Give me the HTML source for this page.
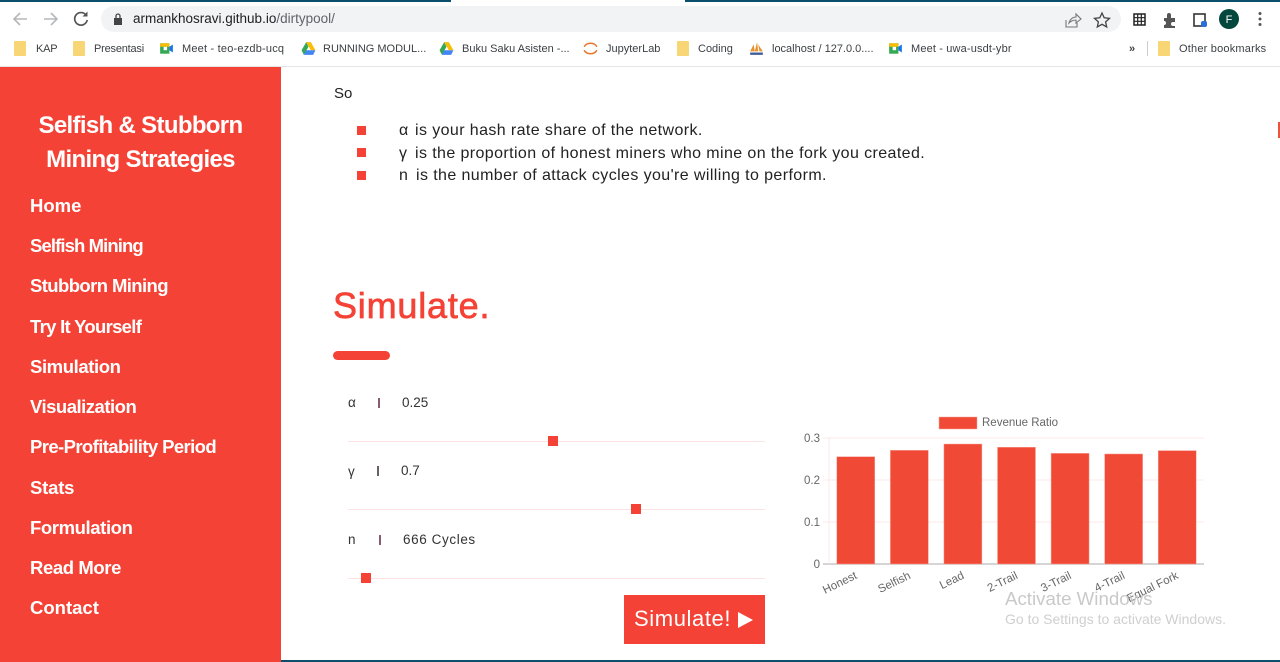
<!DOCTYPE html>
<html lang="en">
<head>
<meta charset="utf-8">
<title>Selfish and Stubborn Mining Strategies</title>
<style>
html,body{margin:0;padding:0;width:1280px;height:662px;overflow:hidden;background:#fff;font-family:"Liberation Sans",sans-serif;}
.abs{position:absolute;white-space:nowrap;}
#chrome{position:absolute;left:0;top:0;width:1280px;height:67px;background:#fff;border-bottom:1px solid #e4e4e4;box-sizing:border-box;}
.bm{position:absolute;top:42px;font-size:11px;line-height:14px;color:#3c4043;white-space:nowrap;}
.folder{position:absolute;top:41px;width:12px;height:15px;background:#f8d675;border-radius:1px;}
.bm-ic{position:absolute;top:41px;width:15px;height:15px;}
#sidebar{position:absolute;left:0;top:67px;width:281px;height:595px;background:#f44336;}
.nav{position:absolute;left:30px;color:#fff;font-size:18.5px;font-weight:bold;line-height:22px;white-space:nowrap;}
.side-title{position:absolute;left:0;width:281px;text-align:center;color:#fff;font-size:24px;font-weight:bold;line-height:34px;white-space:nowrap;letter-spacing:-.67px;}
.li-text{position:absolute;left:399px;font-size:16px;line-height:20px;color:#222;white-space:nowrap;letter-spacing:.4px;}
.li-sym{display:inline-block;width:16px;letter-spacing:0;}
.bullet{position:absolute;left:357px;width:9px;height:9px;background:#f44336;}
.lbl{position:absolute;font-size:13.5px;line-height:18px;color:#333;white-space:nowrap;}
.track{position:absolute;left:348px;width:417px;height:1px;background:#fde3e1;}
.thumb{position:absolute;width:10px;height:10px;background:#f44336;}
</style>
</head>
<body>
<div id="chrome">
  <div class="abs" style="left:0;top:0;width:451px;height:2px;background:#0b4f6c"></div>
  <div class="abs" style="left:685px;top:0;width:595px;height:2px;background:#0b4f6c"></div>
  <svg class="abs" style="left:0;top:0" width="100" height="38">
    <path d="M27 19H14M20 13l-6 6 6 6" fill="none" stroke="#b5b7ba" stroke-width="1.6"/>
    <path d="M44 19h13M51 13l6 6-6 6" fill="none" stroke="#b5b7ba" stroke-width="1.6"/>
    <path d="M86 15a6.3 6.3 0 1 0 1.2 5" fill="none" stroke="#555" stroke-width="1.7"/>
    <path d="M87.5 11.5v5h-5z" fill="#555"/>
  </svg>
  <div class="abs" style="left:101px;top:6px;width:1020px;height:26px;background:#f1f3f4;border-radius:13px"></div>
  <svg class="abs" style="left:112px;top:12px" width="12" height="14"><rect x="2" y="6" width="8" height="7" fill="#444"/><path d="M4 6V4a2 2 0 0 1 4 0v2" fill="none" stroke="#444" stroke-width="1.3"/></svg>
  <div class="abs" style="left:133px;top:11px;font-size:13.5px;line-height:16px;color:#202124">armankhosravi.github.io<span style="color:#5f6368">/dirtypool/</span></div>
  <svg class="abs" style="left:1060px;top:8px" width="215" height="24">
    <path d="M6 12v7h11v-4M9 15c1-4 4-6 7-6V6l5 5-5 4v-3c-3 0-5 1-7 3z" fill="none" stroke="#777" stroke-width="1.1"/>
    <path d="M42 5l2.2 4.8 5.3.6-3.9 3.5 1.1 5.1-4.7-2.7-4.7 2.7 1.1-5.1-3.9-3.5 5.3-.6z" fill="none" stroke="#444" stroke-width="1.3"/>
    <rect x="74" y="6" width="11" height="11" fill="none" stroke="#222" stroke-width="1.5"/>
    <path d="M74 9.7h11M74 13.3h11M77.7 6v11M81.3 6v11" stroke="#222" stroke-width="1.2"/>
    <path d="M104 10h3V7a2 2 0 0 1 4 0v3h4v4h-2a2 2 0 0 0 0 4h2v2h-11v-3a2 2 0 0 0 0-4z" fill="#555"/>
    <rect x="134" y="6" width="11" height="12" fill="none" stroke="#333" stroke-width="1.6"/>
    <rect x="141" y="13" width="6" height="6" rx="2" fill="#2b6fd6"/>
    <circle cx="169" cy="11" r="10" fill="#04473c"/>
    <circle cx="200" cy="5.5" r="1.5" fill="#555"/><circle cx="200" cy="11" r="1.5" fill="#555"/><circle cx="200" cy="16.5" r="1.5" fill="#555"/>
    <text x="169" y="15" text-anchor="middle" fill="#fff" font-size="11" font-family="Liberation Sans, sans-serif">F</text>
  </svg>

  <div class="folder" style="left:14px"></div>
  <div class="bm" style="left:36px;letter-spacing:-.2px">KAP</div>
  <div class="folder" style="left:73px"></div>
  <div class="bm" style="left:94px;letter-spacing:-.2px">Presentasi</div>
  <svg class="bm-ic" style="left:159px" viewBox="0 0 13 13"><rect x="1" y="2" width="8" height="9" fill="#34a853"/><rect x="1" y="2" width="8" height="3" fill="#fbbc04"/><rect x="4" y="5" width="3" height="3" fill="#fff"/><path d="M9 5l3-2v7L9 8z" fill="#1a73e8"/></svg>
  <div class="bm" style="left:182px;letter-spacing:.2px">Meet - teo-ezdb-ucq</div>
  <svg class="bm-ic" style="left:301px" viewBox="0 0 13 13"><path d="M4.5 1h4l4 7h-4z" fill="#fbbc04"/><path d="M4.5 1l-4 7 2 4 4-7z" fill="#34a853"/><path d="M2.5 12h8l2-4h-8z" fill="#4285f4"/></svg>
  <div class="bm" style="left:323px">RUNNING MODUL...</div>
  <svg class="bm-ic" style="left:439px" viewBox="0 0 13 13"><path d="M4.5 1h4l4 7h-4z" fill="#fbbc04"/><path d="M4.5 1l-4 7 2 4 4-7z" fill="#34a853"/><path d="M2.5 12h8l2-4h-8z" fill="#4285f4"/></svg>
  <div class="bm" style="left:462px">Buku Saku Asisten -...</div>
  <svg class="bm-ic" style="left:583px" viewBox="0 0 13 13"><path d="M1 5a6 5 0 0 1 11 0M1 8a6 5 0 0 0 11 0" fill="none" stroke="#e8772e" stroke-width="1.3"/></svg>
  <div class="bm" style="left:606px">JupyterLab</div>
  <div class="folder" style="left:677px"></div>
  <div class="bm" style="left:698px">Coding</div>
  <svg class="bm-ic" style="left:749px" viewBox="0 0 13 13"><path d="M1 9l3-6 1 6zM5 9l2-8 1 8zM9 9l-1-6 4 6z" fill="#e8912e"/><rect x="1" y="10" width="11" height="2" fill="#3c5a9a"/></svg>
  <div class="bm" style="left:772px">localhost / 127.0.0....</div>
  <svg class="bm-ic" style="left:888px" viewBox="0 0 13 13"><rect x="1" y="2" width="8" height="9" fill="#34a853"/><rect x="1" y="2" width="8" height="3" fill="#fbbc04"/><rect x="4" y="5" width="3" height="3" fill="#fff"/><path d="M9 5l3-2v7L9 8z" fill="#1a73e8"/></svg>
  <div class="bm" style="left:911px;letter-spacing:.15px">Meet - uwa-usdt-ybr</div>
  <div class="bm" style="left:1129px;font-weight:bold">»</div>
  <div class="abs" style="left:1147px;top:41px;width:1px;height:15px;background:#ccc"></div>
  <div class="folder" style="left:1158px"></div>
  <div class="bm" style="left:1179px;letter-spacing:.2px">Other bookmarks</div>
</div>

<div id="sidebar">
  <div class="side-title" style="top:42px">Selfish &amp; Stubborn</div>
  <div class="side-title" style="top:76px">Mining Strategies</div>
  <div class="nav" style="top:128px">Home</div>
  <div class="nav" style="top:168px;letter-spacing:-.9px">Selfish Mining</div>
  <div class="nav" style="top:208px;letter-spacing:-.6px">Stubborn Mining</div>
  <div class="nav" style="top:249px;letter-spacing:-.7px">Try It Yourself</div>
  <div class="nav" style="top:289px;letter-spacing:-.4px">Simulation</div>
  <div class="nav" style="top:329px;letter-spacing:-.5px">Visualization</div>
  <div class="nav" style="top:369px;letter-spacing:-.6px">Pre-Profitability Period</div>
  <div class="nav" style="top:410px;letter-spacing:-.2px">Stats</div>
  <div class="nav" style="top:450px;letter-spacing:-.4px">Formulation</div>
  <div class="nav" style="top:490px;letter-spacing:-.4px">Read More</div>
  <div class="nav" style="top:530px">Contact</div>
</div>

<div class="abs" style="left:334px;top:85px;font-size:15px;line-height:18px;color:#222">So</div>
<div class="bullet" style="top:126px"></div>
<div class="li-text" style="top:121px"><span class="li-sym">α</span>is your hash rate share of the network.</div>
<div class="bullet" style="top:148px"></div>
<div class="li-text" style="top:144px"><span class="li-sym">γ</span>is the proportion of honest miners who mine on the fork you created.</div>
<div class="bullet" style="top:171px"></div>
<div class="li-text" style="top:166px"><span class="li-sym" style="width:17px">n</span>is the number of attack cycles you're willing to perform.</div>

<div class="abs" style="left:333px;top:285px;font-size:36px;line-height:42px;color:#f44336;-webkit-text-stroke:.7px #f44336;letter-spacing:.8px">Simulate.</div>
<div class="abs" style="left:333px;top:351px;width:57px;height:9px;border-radius:5px;background:#f44336"></div>

<div class="lbl" style="left:348px;top:394px">α</div>
<div class="abs" style="left:378px;top:398px;width:2px;height:10px;background:#8a5a70"></div>
<div class="lbl" style="left:402px;top:394px">0.25</div>
<div class="track" style="top:441px"></div>
<div class="thumb" style="left:548px;top:436px"></div>

<div class="lbl" style="left:348px;top:463px">γ</div>
<div class="abs" style="left:377px;top:466px;width:2px;height:10px;background:#6a6068"></div>
<div class="lbl" style="left:401px;top:462px">0.7</div>
<div class="track" style="top:509px"></div>
<div class="thumb" style="left:631px;top:504px"></div>

<div class="lbl" style="left:348px;top:531px">n</div>
<div class="abs" style="left:379px;top:535px;width:2px;height:10px;background:#8a5a70"></div>
<div class="lbl" style="left:403px;top:531px;letter-spacing:.6px">666 Cycles</div>
<div class="track" style="top:578px"></div>
<div class="thumb" style="left:361px;top:573px"></div>

<div class="abs" style="left:624px;top:595px;width:141px;height:49px;background:#f44336">
  <span class="abs" style="left:10px;top:11px;font-size:22px;line-height:26px;color:#fff;letter-spacing:.6px">Simulate!</span>
  <svg class="abs" style="left:114px;top:17px" width="15" height="16"><path d="M0 0l15 8-15 8z" fill="#fff"/></svg>
</div>

<svg id="chart" class="abs" style="left:790px;top:405px" width="450" height="235"></svg>

<div class="abs" style="left:1005px;top:587px;font-size:18.7px;line-height:23px;color:#c9c9c9;font-family:'Liberation Sans',sans-serif">Activate Windows</div>
<div class="abs" style="left:1005px;top:611px;font-size:14px;line-height:17px;color:#cfcfcf">Go to Settings to activate Windows.</div>

<div class="abs" style="left:1278px;top:122px;width:2px;height:16px;background:#e8553f"></div>
<div class="abs" style="left:281px;top:660px;width:999px;height:2px;background:#0b4f6c"></div>

<script>
const categories = ["Honest", "Selfish", "Lead", "2-Trail", "3-Trail", "4-Trail", "Equal Fork"];
const revenueRatio = [0.2555, 0.2707, 0.2857, 0.278, 0.2635, 0.262, 0.27];
const yTicks = [0, 0.1, 0.2, 0.3];
const seriesName = "Revenue Ratio";

const svg = document.getElementById('chart');
const NS = 'http://www.w3.org/2000/svg';
const plot = { left: 39, right: 414, top: 33, bottom: 159, yMax: 0.3 };
const BAR_COLOR = '#f04a36';
const yScale = v => plot.bottom - (v / plot.yMax) * (plot.bottom - plot.top);
const band = (plot.right - plot.left) / categories.length;
const xScale = i => plot.left + band * (i + 0.5);

function make(tag, attrs, text) {
  const el = document.createElementNS(NS, tag);
  for (const k in attrs) el.setAttribute(k, attrs[k]);
  if (text !== undefined) el.textContent = text;
  svg.appendChild(el);
  return el;
}

yTicks.forEach(t => {
  const grid = make('line', { x1: plot.left - 6, x2: plot.right, y1: yScale(t), y2: yScale(t), stroke: t === 0 ? '#c9c6c6' : '#fde8e8', 'stroke-width': t === 0 ? 1.4 : 1 });
  
  
  const label = make('text', { x: plot.left - 9, y: yScale(t) + 4, 'text-anchor': 'end', 'font-size': 11.5, fill: '#666', 'font-family': 'Liberation Sans, sans-serif' }, String(t));
  
  
});

const yAxisLine = make('line', { x1: plot.left, x2: plot.left, y1: plot.top, y2: plot.bottom, stroke: '#fde8e8', 'stroke-width': 1 });



categories.forEach((c, i) => {
  const w = 38;
  const y = yScale(revenueRatio[i]);
  const bar = make('rect', { x: xScale(i) - w / 2, y: y, width: w, height: plot.bottom - y, fill: BAR_COLOR, stroke: '#f8a79c', 'stroke-width': 0.5 });
  
  
  const lx = xScale(i) + 2;
  const ly = plot.bottom + 14;
  const label = make('text', { x: lx, y: ly, 'text-anchor': 'end', 'font-size': 11.5, fill: '#666', 'font-family': 'Liberation Sans, sans-serif', transform: 'rotate(-26 ' + lx + ' ' + ly + ')' }, c);
  
  
});

const legendSwatch = make('rect', { x: 149, y: 12, width: 38, height: 12, fill: BAR_COLOR, stroke: '#f8a79c', 'stroke-width': 0.5 });


const legendLabel = make('text', { x: 192, y: 21, 'font-size': 11.5, fill: '#666', 'font-family': 'Liberation Sans, sans-serif' }, seriesName);


</script>
</body>
</html>
